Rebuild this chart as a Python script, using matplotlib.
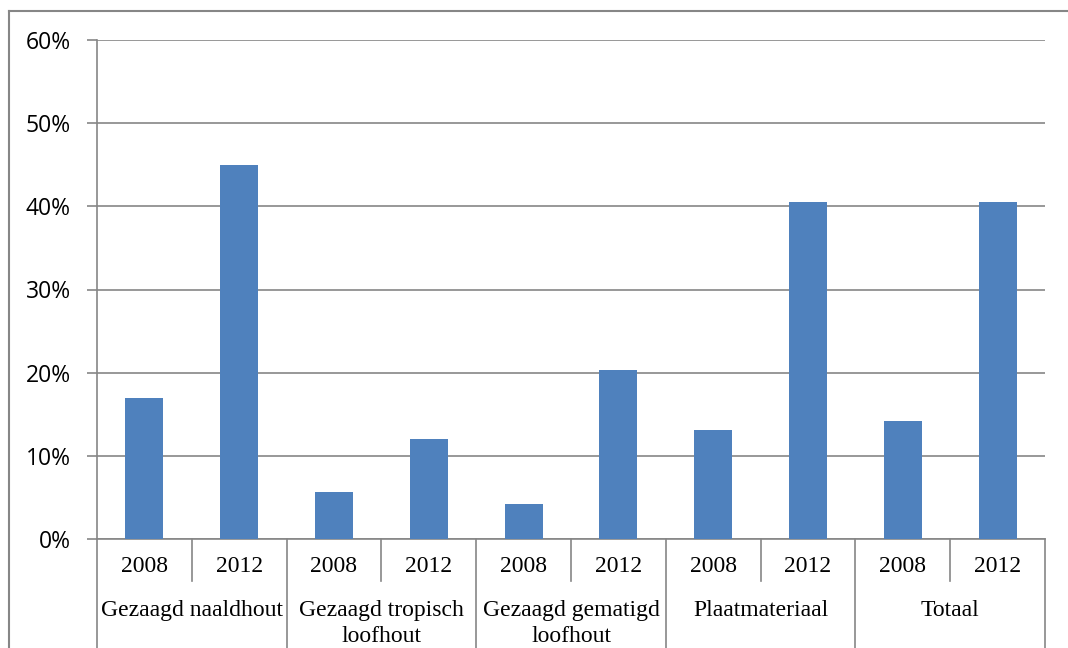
import numpy as np
import matplotlib.pyplot as plt
from matplotlib.lines import Line2D
from matplotlib.ticker import PercentFormatter

# data
categories = ["Gezaagd naaldhout", "Gezaagd tropisch\nloofhout",
              "Gezaagd gematigd\nloofhout", "Plaatmateriaal", "Totaal"]
years = ["2008", "2012"]
values = [17.0, 45.0, 5.7, 12.0, 4.2, 20.3, 13.1, 40.5, 14.2, 40.5]

blue = "#4F81BD"
grey = "#868686"

fig = plt.figure(figsize=(10.68, 6.48), dpi=100)
ax = fig.add_axes([97 / 1068, 109 / 648, 948 / 1068, 499 / 648])

x = np.arange(len(values))
ax.bar(x, values, width=0.4, color=blue, zorder=3)

ax.set_xlim(-0.5, len(values) - 0.5)
ax.set_ylim(0, 60)
ax.set_yticks(np.arange(0, 61, 10))
ax.yaxis.set_major_formatter(PercentFormatter(decimals=0))
ax.grid(axis="y", color=grey, linewidth=1.2, zorder=0)
ax.set_axisbelow(True)
for s in ["top", "right"]:
    ax.spines[s].set_visible(False)
for s in ["left", "bottom"]:
    ax.spines[s].set_color(grey)
    ax.spines[s].set_linewidth(1.2)
ax.tick_params(axis="y", length=7, width=1.2, color=grey, pad=12,
               labelsize=16.5)
for lab in ax.get_yticklabels():
    lab.set_family(["Open Sans", "DejaVu Sans"])
ax.set_xticks([])

# two-level category axis below the plot
trans = ax.get_xaxis_transform()
for i in range(len(values) + 1):
    xpos = i - 0.5
    if i % 2 == 0:
        ax.plot([xpos, xpos], [0, -0.22], color=grey, lw=1.2,
                transform=trans, clip_on=False)
    else:
        ax.plot([xpos, xpos], [0, -0.084], color=grey, lw=1.2,
                transform=trans, clip_on=False)

for i in range(len(values)):
    ax.text(i, -0.056, years[i % 2], transform=trans, ha="center",
            va="center", fontsize=17, family="Liberation Serif")

for k, cat in enumerate(categories):
    ax.text(2 * k + 0.5, -0.122, cat, transform=trans, ha="center",
            va="top", fontsize=17, family="Liberation Serif",
            linespacing=1.32)

# outer chart border (runs off the right and bottom edges)
fig.add_artist(Line2D([9 / 1068, 9 / 1068], [0, 1 - 11 / 648],
                      color=grey, lw=1.5, transform=fig.transFigure))
fig.add_artist(Line2D([9 / 1068, 1], [1 - 11 / 648, 1 - 11 / 648],
                      color=grey, lw=1.5, transform=fig.transFigure))

fig.savefig("out.png", dpi=100)
